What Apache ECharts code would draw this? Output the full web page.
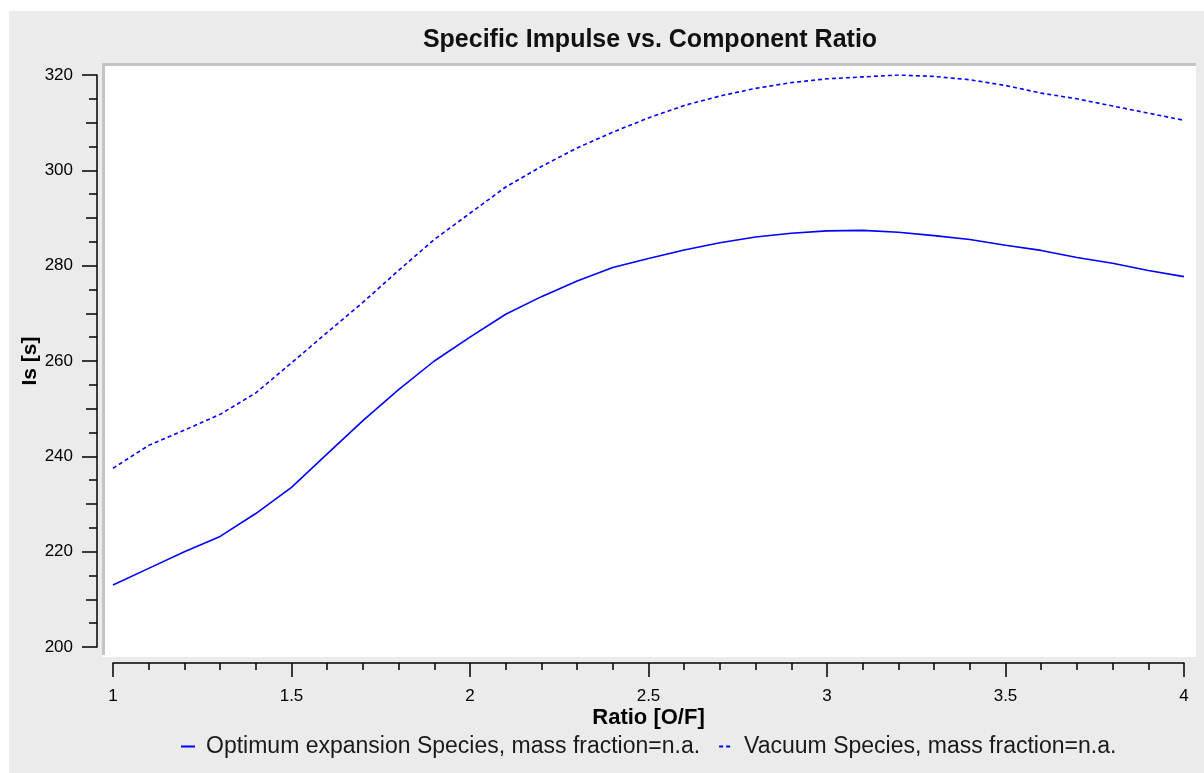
<!DOCTYPE html>
<html>
<head>
<meta charset="utf-8">
<script src="https://cdn.jsdelivr.net/npm/echarts@6/dist/echarts.min.js"></script>
<style>
html,body{margin:0;padding:0;background:#ffffff;}
#chart{width:1204px;height:773px;}
</style>
</head>
<body>
<div id="chart"></div>
<script>
// ---- data ----
const ratioOF = [1.0, 1.1, 1.2, 1.3, 1.4, 1.5, 1.6, 1.7, 1.8, 1.9, 2.0,
                 2.1, 2.2, 2.3, 2.4, 2.5, 2.6, 2.7, 2.8, 2.9, 3.0,
                 3.1, 3.2, 3.3, 3.4, 3.5, 3.6, 3.7, 3.8, 3.9, 4.0];
const optimumIs = [213.0, 216.5, 220.0, 223.2, 228.0, 233.5, 240.5, 247.5, 254.0, 260.0, 265.0,
                   269.8, 273.5, 276.8, 279.6, 281.5, 283.3, 284.8, 286.0, 286.8, 287.3,
                   287.4, 287.0, 286.3, 285.5, 284.3, 283.2, 281.7, 280.5, 279.0, 277.7];
const vacuumIs = [237.5, 242.3, 245.5, 248.8, 253.3, 259.6, 266.0, 272.3, 279.0, 285.5, 291.0,
                  296.5, 300.8, 304.7, 308.0, 311.0, 313.6, 315.6, 317.2, 318.4, 319.2,
                  319.6, 320.0, 319.7, 319.0, 317.8, 316.2, 315.0, 313.5, 312.0, 310.5];
const seriesNames = ['Optimum expansion Species, mass fraction=n.a.', 'Vacuum Species, mass fraction=n.a.'];
const titleText = 'Specific Impulse vs. Component Ratio';
const xAxisName = 'Ratio [O/F]';
const yAxisName = 'Is [s]';
const xRange = [1, 4];
const yRange = [200, 320];

// ---- chart ----
const FONT = '"Liberation Sans", Arial, Helvetica, sans-serif';
const BLUE = '#0000ff';
const pairs = ys => ratioOF.map((x, i) => [x, ys[i]]);
const GRID = {left: 113, right: 20, top: 75, bottom: 126, containLabel: false, outerBoundsMode: 'none'};
const tickStyle = {color: '#000000', width: 1.5};

const chart = echarts.init(document.getElementById('chart'), null, {renderer: 'canvas'});
chart.setOption({
  backgroundColor: '#ffffff',
  animation: false,
  graphic: [
    {type: 'rect', z: -100, silent: true, shape: {x: 9, y: 11, width: 1195, height: 762}, style: {fill: '#ebebeb'}},
    {type: 'rect', z: -99, silent: true, shape: {x: 102, y: 63, width: 1094, height: 594}, style: {fill: '#ffffff'}},
    {type: 'rect', z: -98, silent: true, shape: {x: 102, y: 63, width: 1094, height: 3}, style: {fill: '#c4c4c4'}},
    {type: 'rect', z: -98, silent: true, shape: {x: 102, y: 63, width: 3, height: 592}, style: {fill: '#c4c4c4'}}
  ],
  title: {
    text: titleText,
    left: 645,
    top: 23,
    textAlign: 'center',
    textStyle: {fontFamily: FONT, fontSize: 25, fontWeight: 'bold', color: '#111111'}
  },
  legend: {
    left: 175,
    top: 730,
    itemWidth: 14,
    itemHeight: 2,
    itemGap: 18,
    itemStyle: {opacity: 0},
    textStyle: {fontFamily: FONT, fontSize: 23, color: '#1a1a1a', padding: [0, 0, 0, 6]},
    data: seriesNames
  },
  grid: [GRID, GRID],
  xAxis: [
    {
      type: 'value', gridIndex: 0, min: xRange[0], max: xRange[1], interval: 0.5,
      position: 'bottom', offset: 16,
      axisLine: {show: true, onZero: false, lineStyle: tickStyle},
      axisTick: {show: true, length: 14, lineStyle: tickStyle},
      minorTick: {show: true, splitNumber: 5, length: 7, lineStyle: tickStyle},
      splitLine: {show: false}, minorSplitLine: {show: false},
      axisLabel: {margin: 25, fontSize: 17, color: '#000000', fontFamily: FONT, showMinLabel: true, showMaxLabel: true},
      name: xAxisName, nameLocation: 'middle', nameGap: 44, nameMoveOverlap: false,
      nameTextStyle: {fontFamily: FONT, fontSize: 22, fontWeight: 'bold', color: '#000000'}
    },
    {type: 'value', gridIndex: 1, min: xRange[0], max: xRange[1], show: false}
  ],
  yAxis: [
    {
      type: 'value', gridIndex: 0, min: yRange[0], max: yRange[1], interval: 20,
      position: 'left', offset: 16,
      axisLine: {show: true, onZero: false, lineStyle: tickStyle},
      axisTick: {show: true, length: 15, lineStyle: tickStyle},
      minorTick: {show: true, splitNumber: 4, length: 8, lineStyle: tickStyle},
      splitLine: {show: false}, minorSplitLine: {show: false},
      axisLabel: {margin: 24, fontSize: 17, color: '#000000', fontFamily: FONT, showMinLabel: true, showMaxLabel: true},
      name: yAxisName, nameLocation: 'middle', nameGap: 56, nameRotate: 90, nameMoveOverlap: false,
      nameTextStyle: {fontFamily: FONT, fontSize: 21, fontWeight: 'bold', color: '#000000'}
    },
    {
      type: 'value', gridIndex: 1, min: yRange[0], max: yRange[1], interval: 10,
      position: 'left', offset: 16,
      axisLine: {show: false, onZero: false},
      axisTick: {show: true, length: 11, lineStyle: tickStyle},
      axisLabel: {show: false},
      splitLine: {show: false}
    }
  ],
  series: [
    {
      type: 'line', name: seriesNames[0], xAxisIndex: 0, yAxisIndex: 0,
      data: pairs(optimumIs), symbol: 'none', showSymbol: false, smooth: false,
      lineStyle: {color: BLUE, width: 1.6, type: 'solid'},
      itemStyle: {color: BLUE}
    },
    {
      type: 'line', name: seriesNames[1], xAxisIndex: 0, yAxisIndex: 0,
      data: pairs(vacuumIs), symbol: 'none', showSymbol: false, smooth: false,
      lineStyle: {color: BLUE, width: 1.6, type: [4, 3]},
      itemStyle: {color: BLUE}
    }
  ]
});
</script>
</body>
</html>
